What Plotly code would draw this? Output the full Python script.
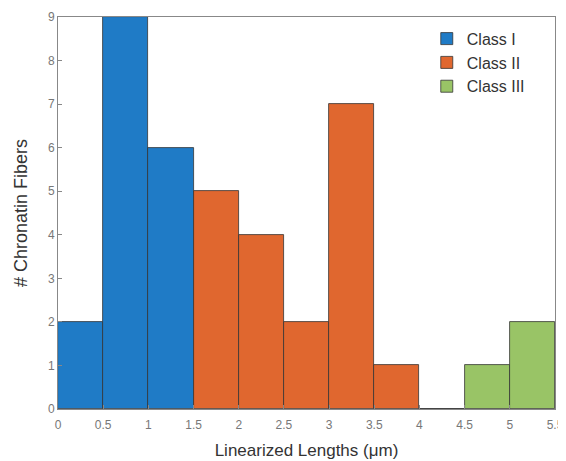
import plotly.graph_objects as go

bin_centers_1 = [0.25, 0.75, 1.25]
counts_1 = [2, 9, 6]
bin_centers_2 = [1.75, 2.25, 2.75, 3.25, 3.75, 4.25]
counts_2 = [5, 4, 2, 7, 1, 0]
bin_centers_3 = [4.75, 5.25]
counts_3 = [1, 2]
class_names = ["Class I", "Class II", "Class III"]
colors = ["#1f7bc6", "#e0672f", "#99c466"]
x_ticks = [0, 0.5, 1, 1.5, 2, 2.5, 3, 3.5, 4, 4.5, 5, 5.5]
x_tick_labels = ["0", "0.5", "1", "1.5", "2", "2.5", "3", "3.5", "4", "4.5", "5", "5.5"]
y_ticks = list(range(0, 10))

fig = go.Figure()
for xs, ys, name, c in zip([bin_centers_1, bin_centers_2, bin_centers_3],
                           [counts_1, counts_2, counts_3], class_names, colors):
    fig.add_trace(go.Bar(x=xs, y=ys, width=0.5, name=name,
                         marker=dict(color=c, line=dict(color="#333333", width=0.8))))

axis_common = dict(showline=True, linecolor="#888888", linewidth=1, mirror=True,
                   ticks="inside", ticklen=4, tickcolor="#888888", showgrid=False,
                   zeroline=False, automargin=False,
                   tickfont=dict(family="Liberation Sans", size=12, color="#777777"))
fig.update_layout(
    width=558, height=453,
    margin=dict(l=50, r=11, t=9, b=52),
    plot_bgcolor="white", paper_bgcolor="white",
    bargap=0,
    xaxis=dict(range=[0, 5.5], tickvals=x_ticks, ticktext=x_tick_labels,
               ticklabelstandoff=5,
               title=dict(text="Linearized Lengths (μm)", standoff=12,
                          font=dict(family="Liberation Sans", size=17, color="#333333")),
               **axis_common),
    yaxis=dict(range=[0, 9], tickvals=y_ticks,
               title=dict(text="# Chronatin Fibers", standoff=15,
                          font=dict(family="Liberation Sans", size=18, color="#333333")),
               **axis_common),
    legend=dict(x=0.742, y=0.988, xanchor="left", yanchor="top",
                borderwidth=0, bgcolor="rgba(255,255,255,0)",
                font=dict(family="Liberation Sans", size=16, color="#333333"),
                itemwidth=30, tracegroupgap=0),
    showlegend=True,
)
fig.write_html("out.html")
